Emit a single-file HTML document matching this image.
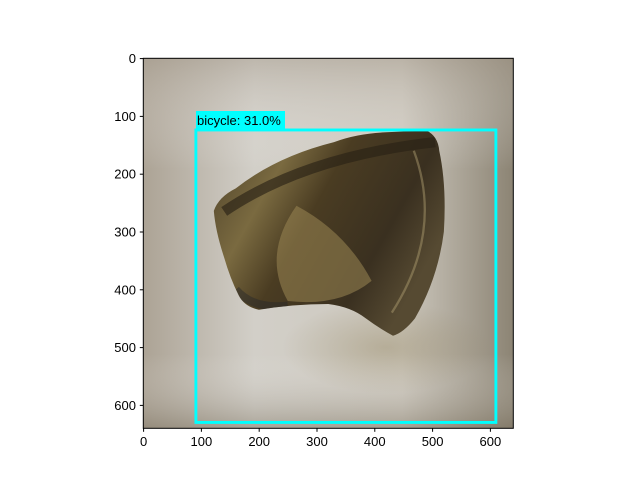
<!DOCTYPE html>
<html><head><meta charset="utf-8"><style>
body{margin:0;background:#fff;width:640px;height:480px;overflow:hidden}
svg{display:block;font-family:"Liberation Sans","DejaVu Sans",sans-serif}
</style></head><body>
<svg width="640" height="480">
<defs>
<linearGradient id="bgx" x1="0" y1="0" x2="1" y2="0">
<stop offset="0" stop-color="#aca395"/><stop offset="0.3" stop-color="#d2cfc8"/><stop offset="0.7" stop-color="#cdc8be"/><stop offset="1" stop-color="#8c8474"/>
</linearGradient>
<linearGradient id="bgy" x1="0" y1="0" x2="0" y2="1">
<stop offset="0" stop-color="#a89e90" stop-opacity="0.5"/><stop offset="0.3" stop-color="#fff" stop-opacity="0"/><stop offset="0.8" stop-color="#fff" stop-opacity="0"/><stop offset="1" stop-color="#786e5c" stop-opacity="0.45"/>
</linearGradient>
<radialGradient id="shadow" cx="0.5" cy="0.5" r="0.5">
<stop offset="0" stop-color="#8a7a50" stop-opacity="0.35"/><stop offset="1" stop-color="#8a7a50" stop-opacity="0"/>
</radialGradient>
<linearGradient id="obj" x1="0" y1="0" x2="1" y2="0.5">
<stop offset="0" stop-color="#4a3e28"/><stop offset="0.3" stop-color="#7a6a40"/><stop offset="0.5" stop-color="#4a3c22"/><stop offset="0.8" stop-color="#3a3020"/><stop offset="1" stop-color="#564a32"/>
</linearGradient>
<clipPath id="objclip"><path d="M122,264 Q130,240 160,225 Q230,170 330,145 Q370,130 420,128 L490,125 Q510,135 512,160 Q525,220 520,300 Q510,380 470,450 Q450,475 432,480 Q405,465 385,450 Q360,430 320,425 Q260,425 200,435 Q175,430 165,410 Q150,380 140,345 Q125,300 122,264 Z"/></clipPath>
</defs>
<g transform="translate(143.3,58.3) scale(0.578)">
<rect x="0" y="0" width="640" height="640" fill="url(#bgx)"/>
<rect x="0" y="0" width="640" height="640" fill="url(#bgy)"/>
<ellipse cx="420" cy="500" rx="180" ry="80" fill="url(#shadow)"/>
<path fill="url(#obj)" d="M122,264 Q130,240 160,225 Q230,170 330,145 Q370,130 420,128 L490,125 Q510,135 512,160 Q525,220 520,300 Q510,380 470,450 Q450,475 432,480 Q405,465 385,450 Q360,430 320,425 Q260,425 200,435 Q175,430 165,410 Q150,380 140,345 Q125,300 122,264 Z"/>
<g clip-path="url(#objclip)">
<path d="M140,265 Q280,170 505,145" stroke="#2a2215" stroke-width="18" fill="none" opacity="0.65"/>
<path d="M265,255 Q350,300 395,385 Q340,430 250,420 Q205,340 265,255Z" fill="#9a8654" opacity="0.55"/>
<path d="M468,160 Q520,300 430,440" stroke="#a8986c" stroke-width="4" fill="none" opacity="0.5"/>
<path d="M160,400 Q190,435 250,428" stroke="#2a2a2a" stroke-width="14" fill="none" opacity="0.5"/>
</g>
<rect x="91" y="124" width="519" height="506" fill="none" stroke="#00ffff" stroke-width="5"/>
</g>
<rect x="196" y="111" width="89" height="18" fill="#00ffff"/>
<text x="197" y="125" font-size="13" fill="#000">bicycle: 31.0%</text>
<rect x="143.3" y="58.3" width="370" height="370" fill="none" stroke="#000" stroke-width="1"/>
<g id="xt" font-size="13" text-anchor="middle"></g>
<g id="yt" font-size="13" text-anchor="end"></g>
</svg>
<script>
const xTicks=[0,100,200,300,400,500,600];
const yTicks=[0,100,200,300,400,500,600];
const s=0.578, ox=143.3, oy=58.3;
const X=v=>ox+(v+0.5)*s, Y=v=>oy+(v+0.5)*s;
const ns="http://www.w3.org/2000/svg";
const xt=document.getElementById('xt'), yt=document.getElementById('yt');
xTicks.forEach(v=>{
 const l=document.createElementNS(ns,'line');
 
 
 l.setAttribute('x1',X(v));l.setAttribute('x2',X(v));l.setAttribute('y1',428.3);l.setAttribute('y2',431.8);l.setAttribute('stroke','#000');
 xt.appendChild(l);
 const t=document.createElementNS(ns,'text');
 
 
 t.setAttribute('x',X(v));t.setAttribute('y',446);t.textContent=v;
 xt.appendChild(t);
});
yTicks.forEach(v=>{
 const l=document.createElementNS(ns,'line');
 
 
 l.setAttribute('y1',Y(v));l.setAttribute('y2',Y(v));l.setAttribute('x1',139.8);l.setAttribute('x2',143.3);l.setAttribute('stroke','#000');
 yt.appendChild(l);
 const t=document.createElementNS(ns,'text');
 
 
 t.setAttribute('x',136);t.setAttribute('y',Y(v)+4.5);t.textContent=v;
 yt.appendChild(t);
});
</script>
</body></html>
